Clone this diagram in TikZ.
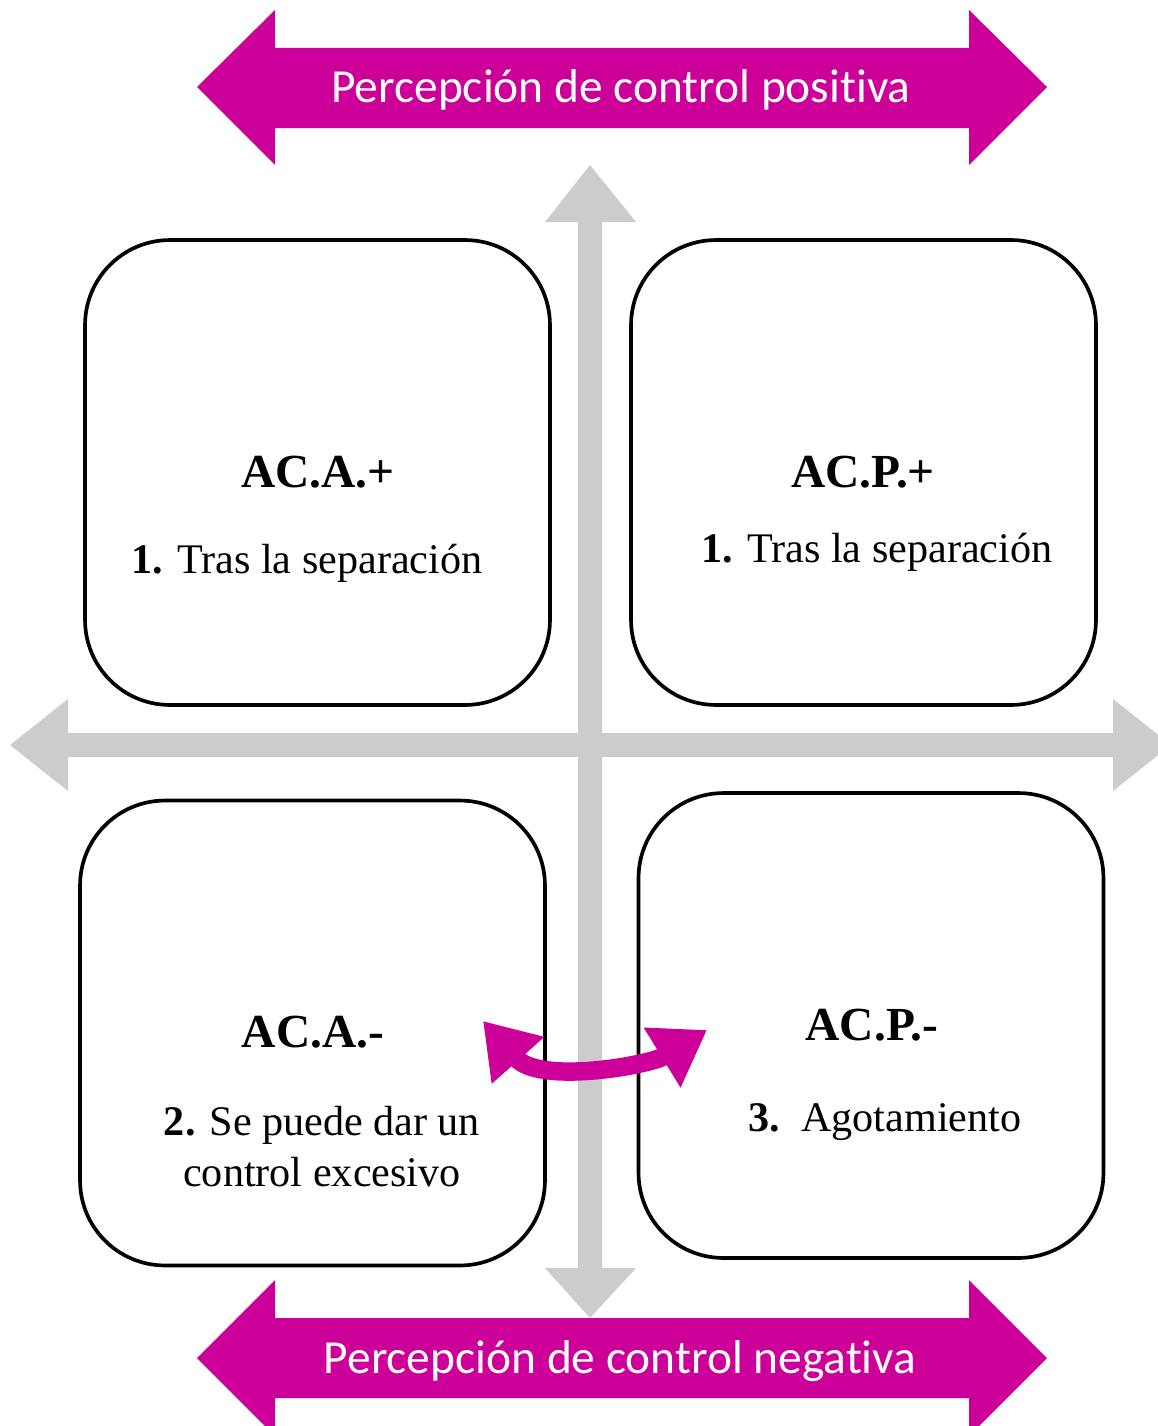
\documentclass[tikz,border=0pt]{standalone}
\usepackage{fontspec}
\setmainfont{Liberation Serif}
\newfontfamily\calibri[Ligatures=NoCommon]{Carlito}
\usetikzlibrary{arrows.meta, positioning}
\definecolor{bandpink}{RGB}{204,0,153}
\definecolor{axisgray}{RGB}{204,204,204}

\begin{document}
\begin{tikzpicture}[x=0.02cm, y=-0.02cm,
		quad/.style={draw, line width=2.1pt, rounded corners=1.7cm, minimum width=9.3cm, minimum height=9.3cm},
		head/.style={font=\fontsize{27}{32}\selectfont\bfseries, inner sep=0pt},
		body/.style={font=\fontsize{24}{29}\selectfont, inner sep=0pt, align=center},
		bandtext/.style={font=\calibri\fontsize{27}{32}\selectfont, text=white, inner sep=0pt}]
		\useasboundingbox (0,0) rectangle (1158,1426);

		% axes
		\fill [axisgray] (590,165) -- (636,222) -- (602,222) -- (602,1268) -- (636,1268) -- (590,1318)
			-- (545,1268) -- (578,1268) -- (578,222) -- (545,222) -- cycle;
		\fill [axisgray] (10,745) -- (68,699) -- (68,733) -- (1113,733) -- (1113,699) -- (1171,745)
			-- (1113,791) -- (1113,757) -- (68,757) -- (68,791) -- cycle;

		% bands
		\fill [bandpink] (197,87) -- (275,10) -- (275,48) -- (969,48) -- (969,10) -- (1047,87)
			-- (969,165) -- (969,128) -- (275,128) -- (275,165) -- cycle;
		\node [bandtext] (pos) at (621,90) {Percepción de control positiva};
		\fill [bandpink] (197,1358) -- (275,1280) -- (275,1318) -- (969,1318) -- (969,1280) -- (1047,1358)
			-- (969,1436) -- (969,1398) -- (275,1398) -- (275,1436) -- cycle;
		\node [bandtext] (neg) at (620,1361) {Percepción de control negativa};

		% quadrants
		\node [quad] (tl) at (317.5,472.5) {};
		\node [quad] (tr) at (863.5,472.5) {};
		\node [quad] (bl) at (312.5,1033) {};
		\node [quad] (br) at (871,1025.5) {};

		\node [head] (tlHead) at (318,472) {AC.A.+};
		\node [body] (tlText) at (307,563) {\textbf{1.} Tras la separación};
		\node [head] (trHead) at (863,472) {AC.P.+};
		\node [body] (trText) at (877,552) {\textbf{1.} Tras la separación};
		\node [head] (blHead) at (313,1032) {AC.A.-};
		\node [body] (blText) at (322,1147) {\textbf{2.} Se puede dar un\\control excesivo};
		\node [head] (brHead) at (872,1025) {AC.P.-};
		\node [body] (brText) at (885,1122) {\textbf{3.}\ \ Agotamiento};

		% swap between the lower quadrants
		\coordinate (swapL) at (483,1021);
		\coordinate (swapR) at (707,1030);
		\draw [bandpink, line width=10.5pt, {Triangle[length=30pt, width=38pt]}-{Triangle[length=30pt, width=38pt]}]
			(swapL) .. controls (540,1085) and (650,1065) .. (swapR);
	\end{tikzpicture}
\end{document}
